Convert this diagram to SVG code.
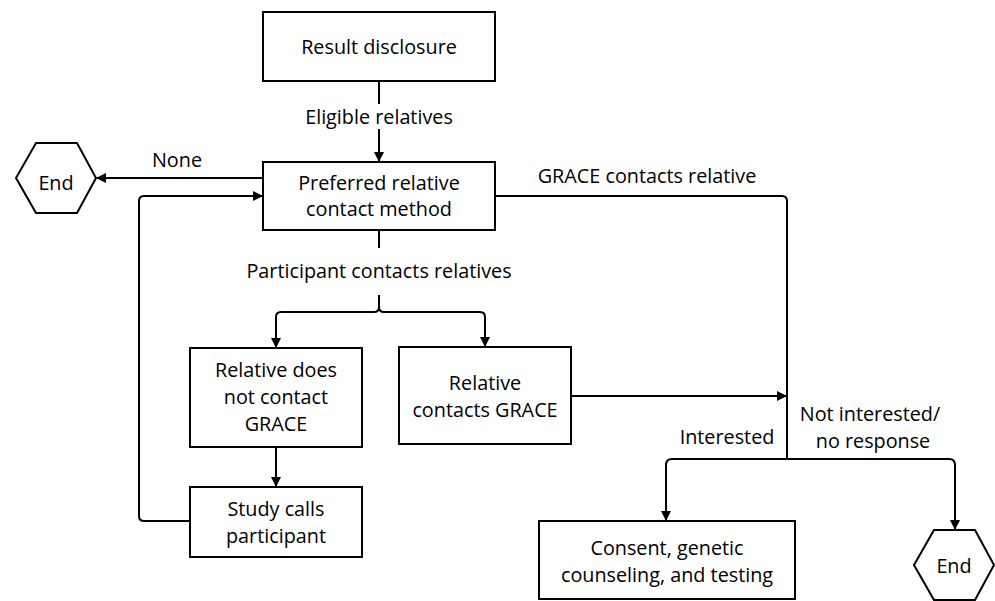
<svg xmlns="http://www.w3.org/2000/svg" width="995" height="601" viewBox="0 0 995 601">
<defs>
<marker id="ah" markerWidth="10" markerHeight="10" refX="9" refY="5" orient="auto" markerUnits="userSpaceOnUse" viewBox="0 0 10 10">
<path d="M0,0 L10,5 L0,10 z" fill="#000"/>
</marker>
<style>
.box{fill:#fff;stroke:#000;stroke-width:2}
.ln{fill:none;stroke:#000;stroke-width:2}
text{font-family:"Open Sans","Liberation Sans",sans-serif;font-size:19.8px;fill:#000;text-anchor:middle}
</style>
</defs>
<rect width="995" height="601" fill="#fff"/>
<g id="connectors">
<path class="ln" d="M379,81 V104"/>
<path class="ln" d="M379,129 V161" marker-end="url(#ah)"/>
<path class="ln" d="M263,178 H97" marker-end="url(#ah)"/>
<path class="ln" d="M190,521 H144 Q139,521 139,516 V201 Q139,196 144,196 H262" marker-end="url(#ah)"/>
<path class="ln" d="M495,196 H782 Q787,196 787,201 V459"/>
<path class="ln" d="M379,230 V248"/>
<path class="ln" d="M379,295 V307 Q379,312 374,312 H281 Q276,312 276,317 V347" marker-end="url(#ah)"/>
<path class="ln" d="M379,307 Q379,312 384,312 H480 Q485,312 485,317 V346" marker-end="url(#ah)"/>
<path class="ln" d="M276,447 V486" marker-end="url(#ah)"/>
<path class="ln" d="M571,396 H786" marker-end="url(#ah)"/>
<path class="ln" d="M787,459 H672 Q666,459 666,465 V520" marker-end="url(#ah)"/>
<path class="ln" d="M787,459 H949 Q955,459 955,465 V529" marker-end="url(#ah)"/>
</g>
<g id="n-result"><rect class="box" x="263" y="12" width="232" height="69"/><text x="379" y="54">Result disclosure</text></g>
<g id="n-preferred"><rect class="box" x="263" y="162" width="232" height="68"/><text x="379" y="190">Preferred relative</text><text x="379" y="216">contact method</text></g>
<g id="n-end1"><polygon class="box" points="16,178 36,143 77,143 96,178 77,213 36,213"/><text x="56" y="190">End</text></g>
<g id="n-notcontact"><rect class="box" x="190" y="348" width="172" height="99"/><text x="276" y="377">Relative does</text><text x="276" y="404">not contact</text><text x="276" y="431">GRACE</text></g>
<g id="n-studycalls"><rect class="box" x="190" y="487" width="172" height="70"/><text x="276" y="516">Study calls</text><text x="276" y="543">participant</text></g>
<g id="n-contacts"><rect class="box" x="399" y="347" width="172" height="97"/><text x="485" y="390">Relative</text><text x="485" y="417">contacts GRACE</text></g>
<g id="n-consent"><rect class="box" x="539" y="521" width="256" height="78"/><text x="667" y="555">Consent, genetic</text><text x="667" y="582">counseling, and testing</text></g>
<g id="n-end2"><polygon class="box" points="914,565 934,530 975,530 994,565 975,600 934,600"/><text x="954" y="573">End</text></g>
<g id="labels">
<text x="379" y="124">Eligible relatives</text>
<text x="177" y="167">None</text>
<text x="647" y="183">GRACE contacts relative</text>
<text x="379" y="278">Participant contacts relatives</text>
<text x="727" y="444">Interested</text>
<text x="870" y="421">Not interested/</text>
<text x="873" y="448">no response</text>
</g>
</svg>
